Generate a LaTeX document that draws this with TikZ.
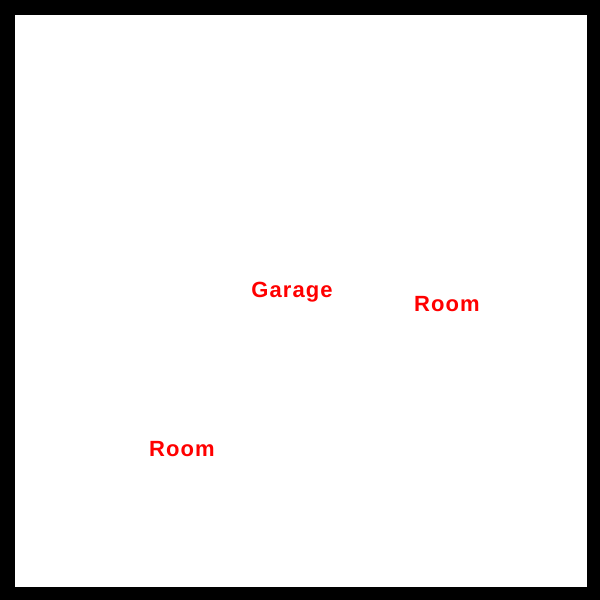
\documentclass[tikz,border=0pt]{standalone}
\usepackage{fontspec}
\setmainfont{Liberation Sans}
\begin{document}
\begin{tikzpicture}[x=1pt,y=-1pt,
	label/.style={text=red,font=\bfseries\fontsize{22}{26}\selectfont\addfontfeature{LetterSpace=5},inner sep=0pt,anchor=base}]
	%frame
	\useasboundingbox (0,0) rectangle (600,600);
	\fill[black] (0,0) rectangle (600,600);
	\fill[white] (15,15) rectangle (587,587);

	%labels
	\node[label] (garage) at (292,297) {Garage};
	\node[label] (roomA) at (447,311.5) {Room};
	\node[label] (roomB) at (182,456.5) {Room};

\end{tikzpicture}
\end{document}
